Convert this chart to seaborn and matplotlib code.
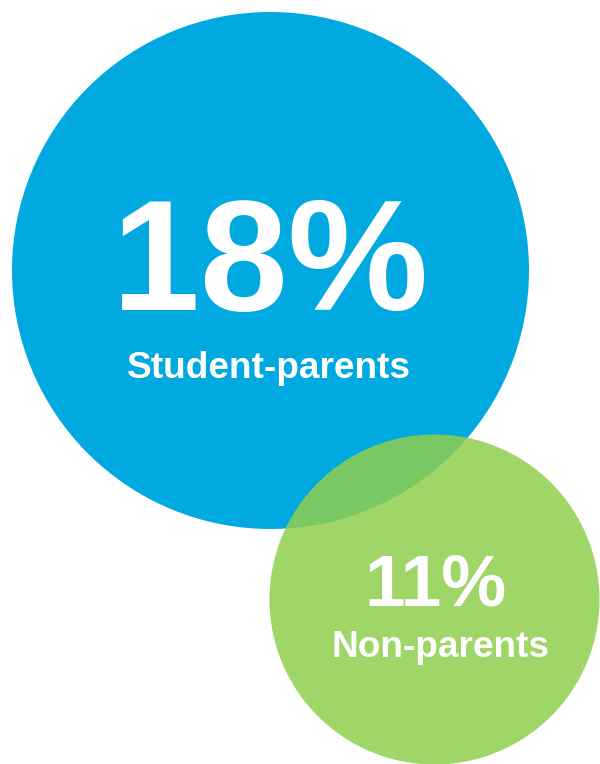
import matplotlib
matplotlib.use("Agg")
import matplotlib.pyplot as plt
import seaborn as sns
import pandas as pd

# ---- data ----
groups = ["Student-parents", "Non-parents"]
values = [18, 11]
labels = ["18%", "11%"]

# ---- layout (pixel coordinates, y downwards) ----
cx = [269.5, 434.0]
cy = [269.5, 599.0]
diam_px = [517.0, 330.0]
colors = ["#00A9DF", "#90CE4D"]
alphas = [1.0, 0.85]

sns.set_theme(style="white")
plt.rcParams["font.family"] = ["Liberation Sans", "DejaVu Sans"]

DPI = 100
fig = plt.figure(figsize=(6.0, 7.64), dpi=DPI)
ax = fig.add_axes([0, 0, 1, 1])
ax.set_xlim(0, 600)
ax.set_ylim(764, 0)
ax.set_axis_off()

df = pd.DataFrame({"group": groups, "value": values, "x": cx, "y": cy})
for i in range(len(groups)):
    d_pt = diam_px[i] * 72.0 / DPI
    sns.scatterplot(data=df.iloc[[i]], x="x", y="y", ax=ax,
                    s=d_pt ** 2, color=colors[i], alpha=alphas[i],
                    linewidth=0, marker="o", legend=False, clip_on=False,
                    zorder=1 + i)

px = 72.0 / DPI
# big percentages
ax.text(270, 310, labels[0], ha="center", va="baseline", color="white",
        fontsize=158 * px, fontweight="bold", zorder=5)
ax.text(269, 378, groups[0], ha="center", va="baseline", color="white",
        fontsize=37 * px, fontweight="bold", zorder=5)
ax.text(435.5, 605, labels[1], ha="center", va="baseline", color="white",
        fontsize=73 * px, fontweight="bold", zorder=5)
ax.text(441, 657, groups[1], ha="center", va="baseline", color="white",
        fontsize=37 * px, fontweight="bold", zorder=5)

fig.savefig("out.png", dpi=DPI, facecolor="white")
